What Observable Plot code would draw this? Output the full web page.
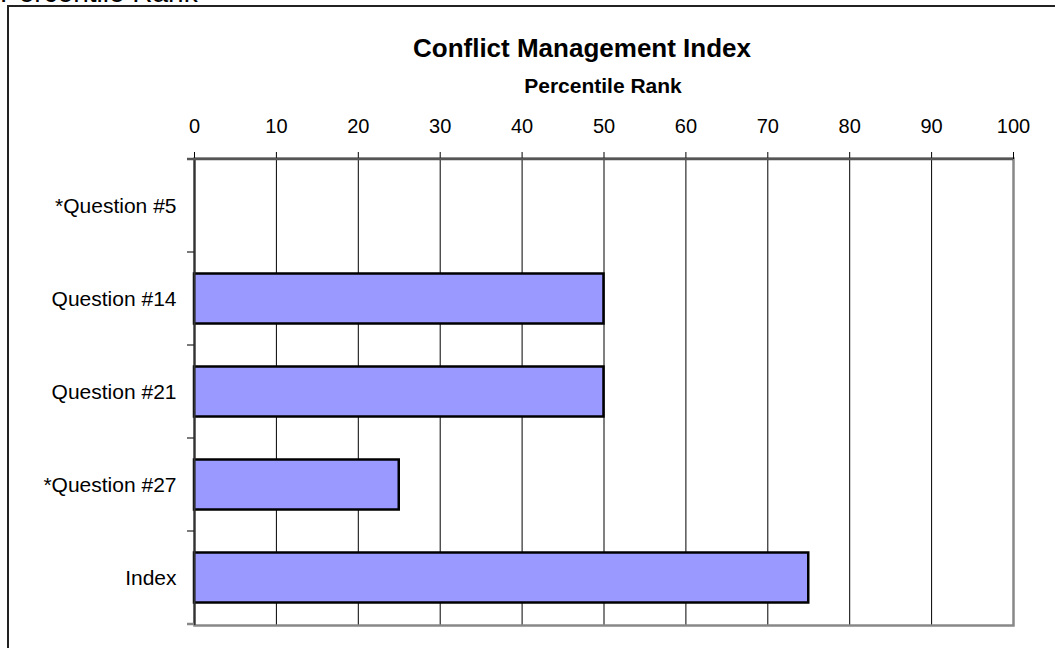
<!DOCTYPE html>
<html>
<head>
<meta charset="utf-8">
<script src="https://cdn.jsdelivr.net/npm/d3@7"></script>
<script src="https://cdn.jsdelivr.net/npm/@observablehq/plot@0.6"></script>
<style>
  html, body { margin: 0; padding: 0; background: white; overflow: hidden; }
  #wrap { position: relative; width: 1055px; height: 648px; font-family: "Liberation Sans", Arial, sans-serif; }
  .ov { position: absolute; line-height: 1; white-space: nowrap; color: black; }
  #corner { left: 0px; top: -21px; font-size: 28px; }
  #border { position: absolute; left: 7px; top: 5px; width: 1100px; height: 700px; border: 2px solid #222; pointer-events: none; z-index: 2; }
  #title { left: 582px; top: 35px; transform: translateX(-50%); font-size: 26px; font-weight: bold; }
  #subtitle { left: 603px; top: 75px; transform: translateX(-50%); font-size: 21px; font-weight: bold; }
  svg { position: absolute; left: 0; top: 0; }
</style>
</head>
<body>
<div id="wrap">
  <div class="ov" id="corner">Percentile Rank</div>
  <div id="border"></div>
  <div class="ov" id="title">Conflict Management Index</div>
  <div class="ov" id="subtitle">Percentile Rank</div>
</div>
<script>
const categories = ["*Question #5", "Question #14", "Question #21", "*Question #27", "Index"];
const values = [null, 50, 50, 25, 75];
const xTicks = [0, 10, 20, 30, 40, 50, 60, 70, 80, 90, 100];
const gridTicks = [10, 20, 30, 40, 50, 60, 70, 80, 90];

const data = categories.map((c, i) => ({category: c, value: values[i]})).filter(d => d.value != null);

const chart = Plot.plot({
  width: 1055,
  height: 648,
  marginTop: 158,
  marginBottom: 23,
  marginLeft: 194,
  marginRight: 42,
  style: {fontFamily: "'Liberation Sans', Arial, sans-serif", fontSize: "20px", color: "black", background: "transparent", overflow: "visible"},
  x: {domain: [0, 100], label: null},
  y: {domain: categories, padding: 0, label: null},
  marks: [
    Plot.ruleX(gridTicks, {stroke: "black", strokeWidth: 1}),
    Plot.frame({stroke: "#888", strokeWidth: 2.5}),
    Plot.barX(data, {x: "value", y: "category", fill: "#9999ff", stroke: "black", strokeWidth: 2.5, insetTop: 21.5, insetBottom: 21.5}),
    Plot.ruleX([0], {stroke: "#333", strokeWidth: 2}),
    Plot.axisX({anchor: "top", ticks: xTicks, tickSize: 7, tickPadding: 19, fontSize: 20, label: null}),
    Plot.axisY({anchor: "left", tickSize: 0, tickPadding: 18, fontSize: 21, label: null})
  ]
});

// extra lines: top axis line and category boundary tick marks, positioned by the plot's scales
const xs = chart.scale("x");
const ys = chart.scale("y");
const svg = d3.select(chart);
const x0 = xs.apply(0), x1 = xs.apply(100);
const yTop = ys.apply(categories[0]);
const yBottom = ys.apply(categories[categories.length - 1]) + ys.bandwidth;
const bounds = categories.map(c => ys.apply(c)).concat([yBottom]);
const g = svg.append("g");
g.append("line").attr("x1", x0 - 7).attr("x2", x1).attr("y1", yTop).attr("y2", yTop)
  .attr("stroke", "#555").attr("stroke-width", 2.5);
g.selectAll(".bt").data(bounds.slice(1)).join("line")
  .attr("x1", x0 - 7).attr("x2", x0).attr("y1", d => d).attr("y2", d => d)
  .attr("stroke", d => d === yBottom ? "#888" : "#222").attr("stroke-width", d => d === yBottom ? 2.5 : 1.2);

document.getElementById("wrap").appendChild(chart);
</script>
</body>
</html>
